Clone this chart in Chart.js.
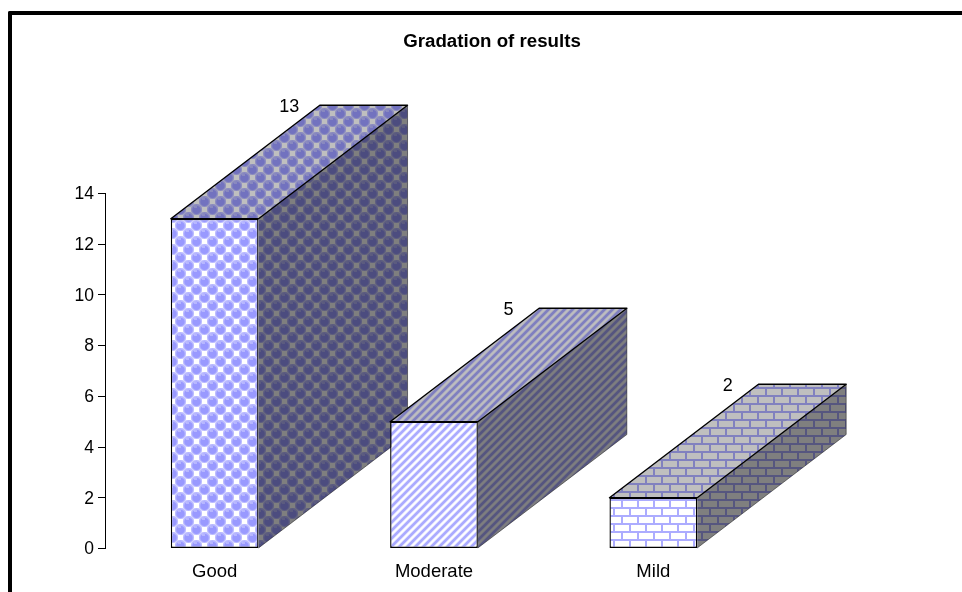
<!DOCTYPE html>
<html>
<head>
<meta charset="utf-8">
<title>Gradation of results</title>
<script src="https://cdn.jsdelivr.net/npm/chart.js@4"></script>
<style>
    html, body { margin: 0; padding: 0; background: #fff; overflow: hidden; }
    #frame {
        position: absolute; left: 8px; top: 11px; width: 954px; height: 581px;
        box-sizing: border-box; border-top: 4px solid #000; border-left: 4px solid #000;
        border-top-left-radius: 2px;
    }
    #wrap { position: absolute; left: 0; top: 0; width: 962px; height: 592px; }
</style>
</head>
<body>
<div id="frame"></div>
<div id="wrap"><canvas id="gradationChart" width="962" height="592"></canvas></div>
<script>
const categories = ['Good', 'Moderate', 'Mild'];
const results = [13, 5, 2];
const yTicks = [0, 2, 4, 6, 8, 10, 12, 14];

const FONT = '"Liberation Sans", Arial, sans-serif';
// how far the box depth runs to the right and up
const DEPTH_X = 149;
const DEPTH_Y = 113.5;

function makeTile(w, h, paint) {
    const c = document.createElement('canvas');
    c.width = w;
    c.height = h;
    paint(c.getContext('2d'));
    return c;
}

function bubbles(g) {
    g.fillStyle = '#dcdcff';
    g.fillRect(0, 0, 16, 16);
    // white squares in the gaps between the balls
    g.fillStyle = '#fff';
    g.fillRect(10, -1, 5, 5);
    g.fillRect(10, 15, 5, 5);
    g.fillRect(2, 7, 5, 5);
    [[4.5, 1.5], [12.5, 9.5]].forEach(([cx, cy]) => {
        [-16, 0, 16].forEach(ox => {
            [-16, 0, 16].forEach(oy => {
                const x = cx + ox;
                const y = cy + oy;
                g.fillStyle = '#b8b8ff';
                g.beginPath();
                g.arc(x, y, 5.4, 0, Math.PI * 2);
                g.fill();
                g.fillStyle = '#9999ff';
                g.beginPath();
                g.arc(x, y + 0.4, 4.2, 0, Math.PI * 2);
                g.fill();
                g.fillStyle = '#d4d4ff';
                g.fillRect(x - 2.5, y - 3, 3, 1);
            });
        });
    });
}

// painted pixel by pixel along x + y so the bands wrap without seams
function stripes(g) {
    const bands = ['#aaaaff', '#aaaaff', '#aaaaff', '#d4d4ff', '#f6f6ff', '#fff', '#f6f6ff', '#d4d4ff'];
    for (let y = 0; y < 8; y++) {
        for (let x = 0; x < 8; x++) {
            g.fillStyle = bands[(x + y) % 8];
            g.fillRect(x, y, 1, 1);
        }
    }
}

function bricks(g) {
    g.fillStyle = '#fff';
    g.fillRect(0, 0, 16, 16);
    g.fillStyle = '#acacff';
    g.fillRect(0, 3, 16, 2);
    g.fillRect(0, 11, 16, 2);
    g.fillRect(13, 5, 2, 6);
    g.fillRect(5, 13, 2, 3);
    g.fillRect(5, 0, 2, 3);
}

// same tile, shaded for the top and side faces of a box
function shaded(tile, alpha) {
    return makeTile(tile.width, tile.height, g => {
        g.drawImage(tile, 0, 0);
        g.fillStyle = `rgba(0,0,0,${alpha})`;
        g.fillRect(0, 0, tile.width, tile.height);
    });
}

const canvas = document.getElementById('gradationChart');
const ctx = canvas.getContext('2d');

const tiles = [makeTile(16, 16, bubbles), makeTile(8, 8, stripes), makeTile(16, 16, bricks)];
const frontFill = tiles.map(t => ctx.createPattern(t, 'repeat'));
const topFill = tiles.map(t => ctx.createPattern(shaded(t, 0.25), 'repeat'));
const sideFill = tiles.map(t => ctx.createPattern(shaded(t, 0.5), 'repeat'));

function polygon(g, pts) {
    g.beginPath();
    pts.forEach((p, i) => (i ? g.lineTo(p[0], p[1]) : g.moveTo(p[0], p[1])));
}

// Top and side of every box go under the bars; the value sits on the back edge
const boxFaces = {
    id: 'boxFaces',
    afterLayout(chart) {
        // centre the title on the framed page, not the padded plot
        chart.titleBlock.left = 24;
        chart.titleBlock.right = 960;
    },
    beforeDatasetsDraw(chart) {
        const g = chart.ctx;
        g.save();
        g.lineJoin = 'round';
        chart.getDatasetMeta(0).data.forEach((bar, i) => {
            const l = bar.x - bar.width / 2;
            const r = bar.x + bar.width / 2;
            const t = bar.y;
            const b = bar.base;
            const backR = r + DEPTH_X;

            polygon(g, [[r, t], [backR, t - DEPTH_Y], [backR, b - DEPTH_Y], [r, b]]);
            g.closePath();
            g.fillStyle = sideFill[i];
            g.fill();
            // far edges of the side stay faint
            polygon(g, [[backR, t - DEPTH_Y], [backR, b - DEPTH_Y], [r, b]]);
            g.strokeStyle = 'rgba(0,0,0,0.45)';
            g.lineWidth = 1;
            g.stroke();

            polygon(g, [[l, t], [l + DEPTH_X, t - DEPTH_Y], [backR, t - DEPTH_Y], [r, t]]);
            g.closePath();
            g.fillStyle = topFill[i];
            g.fill();
            g.strokeStyle = '#000';
            g.lineWidth = 1.4;
            g.stroke();
        });
        g.restore();
    },
    afterDatasetsDraw(chart) {
        const g = chart.ctx;
        g.save();
        g.fillStyle = '#000';
        g.font = '18px ' + FONT;
        g.textAlign = 'center';
        g.textBaseline = 'middle';
        chart.getDatasetMeta(0).data.forEach((bar, i) => {
            g.fillText(String(results[i]), bar.x + DEPTH_X / 2, bar.y - DEPTH_Y + 1.5);
        });
        g.restore();
    }
};

new Chart(ctx, {
    type: 'bar',
    data: {
        labels: categories,
        datasets: [{
            label: 'Gradation of results',
            data: results,
            backgroundColor: frontFill,
            borderColor: '#000',
            borderWidth: 1.4,
            borderSkipped: false,
            barPercentage: 0.4,
            categoryPercentage: 1
        }]
    },
    options: {
        responsive: false,
        animation: false,
        layout: { padding: { left: 0, right: 199, top: 0, bottom: 0 } },
        plugins: {
            legend: { display: false },
            tooltip: { enabled: false },
            title: {
                display: true,
                text: 'Gradation of results',
                color: '#000',
                font: { family: FONT, size: 18.7, weight: 'bold' },
                padding: { top: 31, bottom: 140 }
            }
        },
        scales: {
            x: {
                grid: { display: false, drawTicks: false },
                border: { display: false },
                ticks: { color: '#000', font: { family: FONT, size: 18.5 }, padding: 12, maxRotation: 0 },
                afterFit: s => { s.height = 43.5; }
            },
            y: {
                min: 0,
                max: 14,
                afterBuildTicks: s => { s.ticks = yTicks.map(v => ({ value: v })); },
                grid: { drawOnChartArea: false, drawTicks: true, tickLength: 7, color: '#000' },
                border: { display: true, color: '#000', width: 1 },
                ticks: { color: '#000', font: { family: FONT, size: 17.5 }, padding: 4, labelOffset: 1 },
                afterFit: s => { s.width = 105; }
            }
        }
    },
    plugins: [boxFaces]
});
</script>
</body>
</html>
